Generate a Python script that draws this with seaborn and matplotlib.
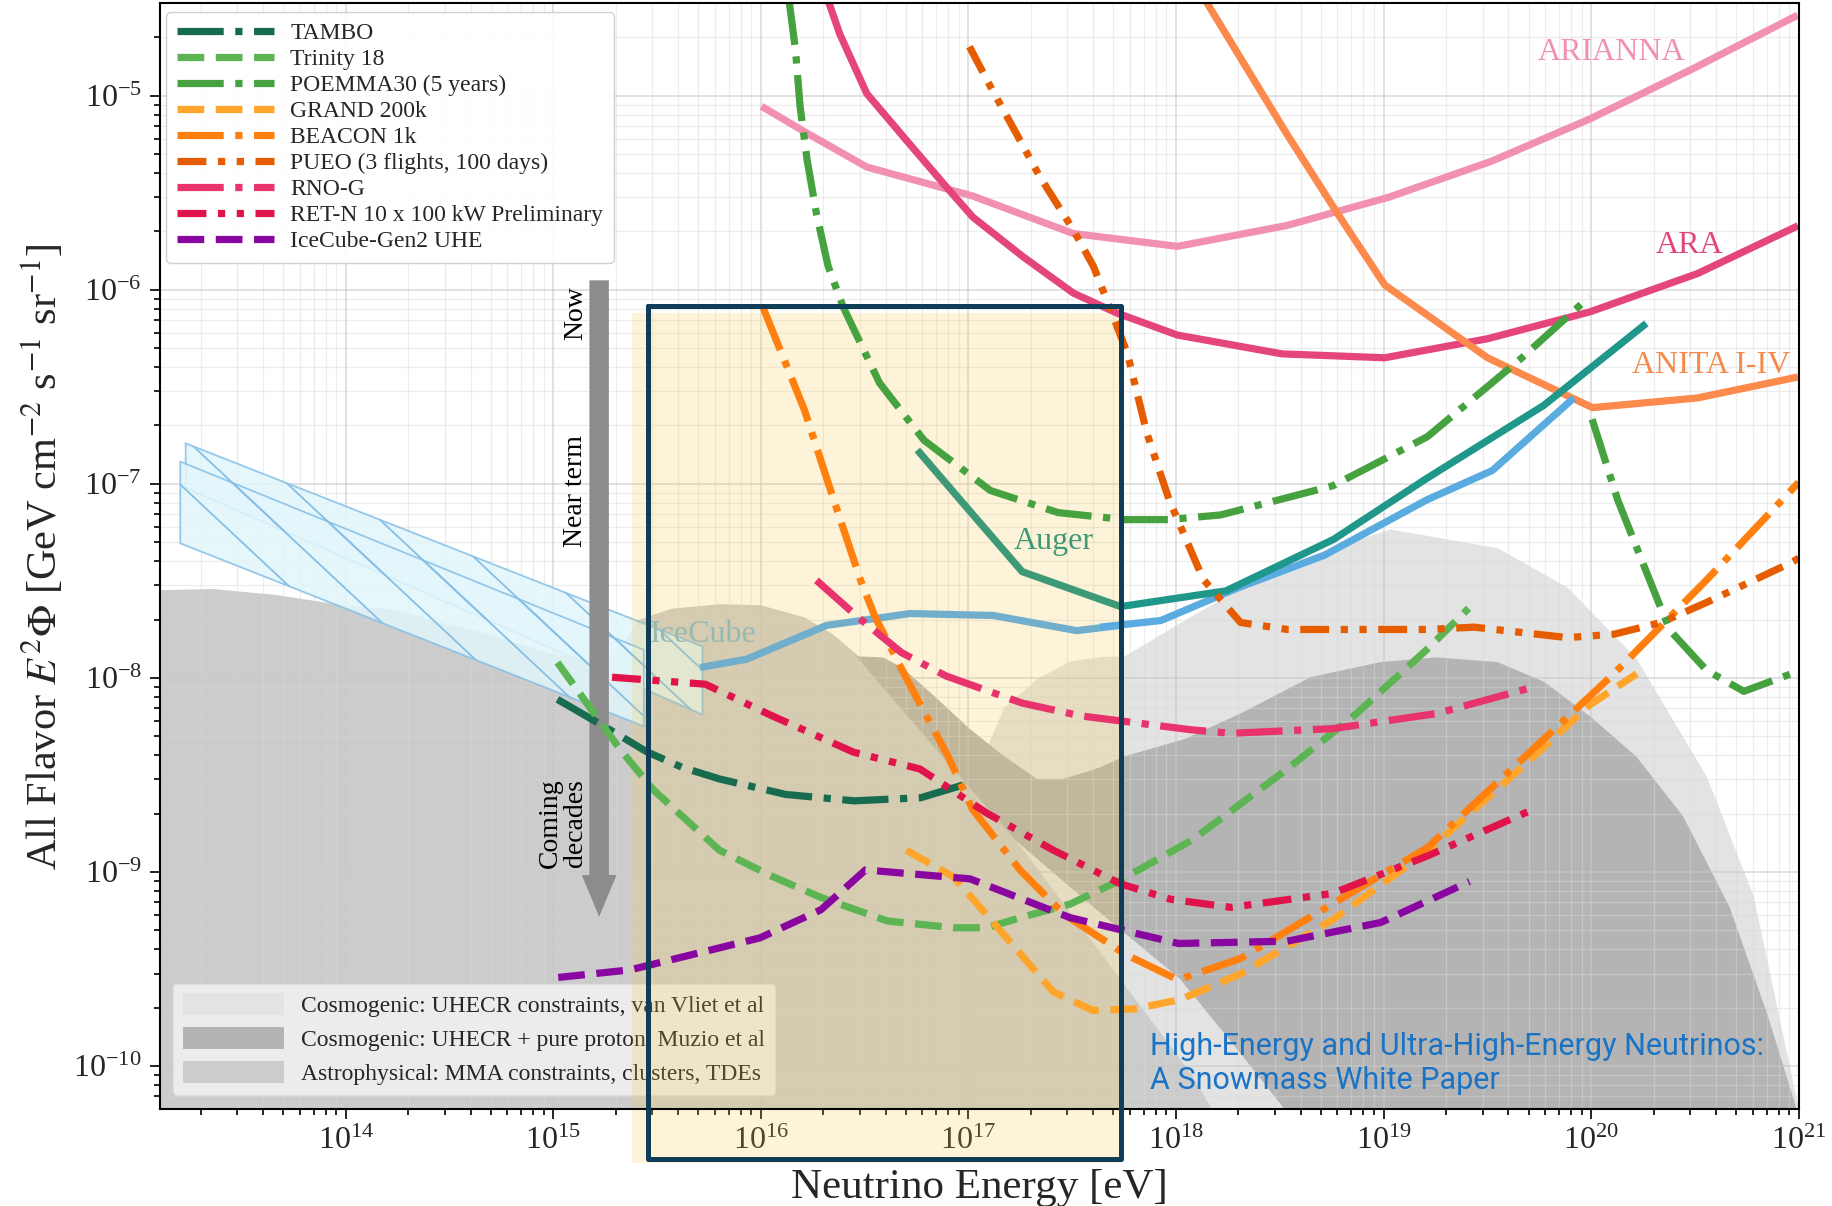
import numpy as np
import matplotlib
matplotlib.use("Agg")
import matplotlib.pyplot as plt
import seaborn as sns
from matplotlib.patches import Patch, FancyArrowPatch
from matplotlib.ticker import FixedLocator, LogLocator, NullFormatter

# ---------------- data (log10 E [eV], log10 E^2 Phi [GeV cm^-2 s^-1 sr^-1]) ----------------
TAMBO_logE = [15.02, 15.31, 15.45, 15.62, 15.80, 16.12, 16.45, 16.77, 17.01]
TAMBO_logF = [-8.11, -8.29, -8.38, -8.46, -8.52, -8.60, -8.633, -8.617, -8.54]

TRINITY_logE = [15.02, 15.32, 15.48, 15.80, 16.05, 16.29, 16.61, 16.93, 17.09, 17.25, 17.49, 17.73,
                18.08, 18.54, 18.87, 19.21, 19.41]
TRINITY_logF = [-7.92, -8.365, -8.574, -8.887, -9.02, -9.131, -9.252, -9.287, -9.287, -9.235, -9.165,
                -9.043, -8.833, -8.466, -8.183, -7.852, -7.641]

POEMMA_logE = [16.135, 16.167, 16.189, 16.223, 16.268, 16.324, 16.397, 16.510, 16.572, 16.786, 17.106,
               17.433, 17.754, 17.962, 18.215, 18.755, 19.211, 19.656, 19.993]
POEMMA_logF = [-4.50, -4.765, -5.054, -5.331, -5.608, -5.878, -6.089, -6.342, -6.480, -6.775, -7.034,
               -7.148, -7.184, -7.184, -7.160, -7.010, -6.757, -6.360, -6.035]
POEMMA_B_logE = [20.005, 20.128, 20.314, 20.381, 20.556, 20.736, 20.995]
POEMMA_B_logF = [-6.667, -7.082, -7.581, -7.756, -7.960, -8.069, -7.966]

GRAND_logE = [16.70, 16.93, 17.17, 17.41, 17.60, 17.80, 18.02, 18.31, 18.76, 19.21, 19.66, 19.99, 20.22]
GRAND_logF = [-8.887, -9.026, -9.322, -9.618, -9.713, -9.705, -9.657, -9.525, -9.242, -8.893, -8.466,
              -8.141, -7.978]

BEACON_logE = [16.01, 16.21, 16.34, 16.48, 16.55, 16.70, 16.90, 17.02, 17.25, 17.46, 17.76, 18.01, 18.31,
               19.21, 20.11, 20.56, 21.0]
BEACON_logF = [-6.089, -6.619, -7.046, -7.495, -7.684, -7.999, -8.400, -8.677, -8.991, -9.217, -9.426,
               -9.555, -9.446, -8.875, -7.978, -7.491, -6.992]

PUEO_logE = [17.005, 17.106, 17.230, 17.343, 17.506, 17.602, 17.680, 17.765, 17.860, 17.967, 18.131,
             18.311, 18.536, 19.211, 19.436, 19.886, 20.112, 20.337, 20.556, 20.961, 21.0]
PUEO_logF = [-4.747, -4.952, -5.193, -5.415, -5.692, -5.878, -6.089, -6.324, -6.739, -7.082, -7.491,
             -7.714, -7.750, -7.750, -7.738, -7.792, -7.774, -7.714, -7.611, -7.407, -7.383]

RNOG_logE = [16.268, 16.465, 16.679, 16.893, 17.258, 17.540, 18.074, 18.266, 18.755, 19.256, 19.706]
RNOG_logF = [-7.497, -7.684, -7.870, -7.990, -8.129, -8.195, -8.267, -8.285, -8.261, -8.183, -8.051]

RETN_logE = [15.283, 15.733, 16.044, 16.446, 16.767, 17.088, 17.409, 17.731, 17.973, 18.266, 18.755,
             19.211, 19.723]
RETN_logF = [-7.996, -8.032, -8.190, -8.382, -8.469, -8.696, -8.887, -9.060, -9.140, -9.182, -9.110,
             -8.917, -8.676]

GEN2_logE = [15.024, 15.37, 15.996, 16.290, 16.504, 17.008, 17.490, 18.012, 18.536, 18.986, 19.414]
GEN2_logF = [-9.543, -9.504, -9.339, -9.194, -8.989, -9.035, -9.235, -9.368, -9.356, -9.260, -9.049]

ICECUBE_logE = [15.707, 15.932, 16.317, 16.719, 17.120, 17.522, 17.731]
ICECUBE_logF = [-7.946, -7.903, -7.729, -7.668, -7.678, -7.756, -7.729]
ICECUBE_HE_logE = [17.635, 17.927, 18.309, 18.714, 19.209, 19.524, 19.917]
ICECUBE_HE_logF = [-7.738, -7.704, -7.531, -7.368, -7.082, -6.931, -6.557]

AUGER_logE = [16.754, 17.002, 17.259, 17.733]
AUGER_logF = [-6.825, -7.134, -7.452, -7.632]
AUGER_HE_logE = [17.733, 18.241, 18.759, 19.209, 19.771, 20.266]
AUGER_HE_logF = [-7.632, -7.551, -7.286, -6.971, -6.596, -6.173]

ARIANNA_logE = [16.003, 16.223, 16.510, 17.022, 17.506, 18.007, 18.536, 19.025, 19.521, 19.993, 20.488, 20.995]
ARIANNA_logF = [-5.054, -5.193, -5.367, -5.517, -5.710, -5.776, -5.668, -5.523, -5.337, -5.120, -4.862, -4.585]

ARA_logE = [16.305, 16.380, 16.510, 16.701, 16.893, 17.022, 17.264, 17.506, 17.714, 18.007, 18.511,
            19.006, 19.501, 19.996, 20.513, 20.997]
ARA_logF = [-4.45, -4.681, -4.988, -5.229, -5.469, -5.626, -5.830, -6.017, -6.119, -6.233, -6.330,
            -6.350, -6.252, -6.113, -5.916, -5.670]

ANITA_logE = [18.12, 18.534, 18.781, 19.006, 19.501, 20.007, 20.513, 20.997]
ANITA_logF = [-4.47, -5.197, -5.611, -5.975, -6.350, -6.607, -6.557, -6.449]

# model regions
ASTRO_logE = [13.105, 13.358, 13.657, 13.989, 14.242, 14.450, 14.670, 14.979, 15.232, 15.345, 15.401,
              15.564, 15.801, 15.998, 16.206, 16.347, 16.459, 16.724, 17.061, 17.399, 17.737, 18.074, 18.215]
ASTRO_logF = [-7.545, -7.539, -7.569, -7.623, -7.647, -7.708, -7.768, -7.870, -7.912, -7.804, -7.702,
              -7.641, -7.617, -7.623, -7.684, -7.774, -7.876, -8.177, -8.598, -9.079, -9.561, -10.042, -10.30]

MUZIO_UP_logE = [16.459, 16.589, 16.684, 16.848, 17.005, 17.168, 17.331, 17.455, 17.568, 17.635, 17.748,
                 18.041, 18.311, 18.648, 18.986, 19.256, 19.549, 19.774, 19.999, 20.218, 20.443, 20.668,
                 20.848, 20.984, 21.0]
MUZIO_UP_logF = [-7.888, -7.894, -7.948, -8.105, -8.261, -8.400, -8.520, -8.520, -8.484, -8.460, -8.405,
                 -8.315, -8.183, -7.996, -7.918, -7.894, -7.918, -8.020, -8.201, -8.405, -8.712, -9.182,
                 -9.729, -10.199, -10.30]
MUZIO_LO_logE = [16.459, 16.836, 17.230, 17.624, 18.018, 18.311, 18.581]
MUZIO_LO_logF = [-7.888, -8.357, -8.839, -9.200, -9.549, -9.934, -10.30]

VLIET_logE = [16.949, 17.168, 17.331, 17.489, 17.652, 17.748, 18.086, 18.536, 19.031, 19.549, 19.886,
              20.218, 20.556, 20.781, 20.995, 21.0]
VLIET_logF = [-8.718, -8.153, -8.002, -7.912, -7.888, -7.888, -7.672, -7.407, -7.232, -7.329, -7.533,
              -7.900, -8.508, -9.122, -10.199, -10.30]

# IceCube measured astrophysical flux bands (E range, upper and lower bound)
BAND_A_logE = [13.229, 15.719]
BAND_A_top = [-6.791, -7.838]
BAND_A_bot = [-7.020, -8.189]
BAND_B_logE = [13.203, 15.436]
BAND_B_top = [-6.885, -7.855]
BAND_B_bot = [-7.306, -8.249]

# highlighted energy window
WINDOW_logE = [15.458, 17.737]
WINDOW_logF = [-6.083, -10.481]

XTICKS_log = [14, 15, 16, 17, 18, 19, 20, 21]
YTICKS_log = [-10, -9, -8, -7, -6, -5]

LEGEND_LABELS = ["TAMBO", "Trinity 18", "POEMMA30 (5 years)", "GRAND 200k", "BEACON 1k",
                 "PUEO (3 flights, 100 days)", "RNO-G", "RET-N 10 x 100 kW Preliminary",
                 "IceCube-Gen2 UHE"]
MODEL_LABELS = ["Cosmogenic: UHECR constraints, van Vliet et al",
                "Cosmogenic: UHECR + pure proton, Muzio et al",
                "Astrophysical: MMA constraints, clusters, TDEs"]

# ---------------- style ----------------
sns.set_theme(style="whitegrid")
plt.rcParams["font.family"] = ["Liberation Serif", "DejaVu Serif"]
plt.rcParams["mathtext.fontset"] = "stix"

def P(a):
    return 10.0 ** np.asarray(a, dtype=float)

fig = plt.figure(figsize=(18.32, 12.06), dpi=100)
ax = fig.add_axes([0.0873, 0.0804, 0.8945, 0.9168])
ax.set_xscale("log")
ax.set_yscale("log")
ax.set_xlim(10 ** 13.105, 1e21)
ax.set_ylim(10 ** -10.221, 10 ** -4.524)

LOW = 1e-12
C_VLIET, C_MUZIO, C_ASTRO = "#e3e3e3", "#b4b4b4", "#cccccc"
ax.fill_between(P(VLIET_logE), P(VLIET_logF), LOW, color=C_VLIET, lw=0, zorder=0.10)
ax.fill_between(P(ASTRO_logE), P(ASTRO_logF), LOW, color=C_ASTRO, lw=0, zorder=0.12)
ax.fill(np.concatenate([P(MUZIO_UP_logE), P(MUZIO_LO_logE)[::-1]]),
        np.concatenate([P(MUZIO_UP_logF), P(MUZIO_LO_logF)[::-1]]),
        color=C_MUZIO, lw=0, zorder=0.14)

# IceCube bands with sparse hatching
band_edge = "#86bfe6"
for bE, bt, bb in [(BAND_A_logE, BAND_A_top, BAND_A_bot), (BAND_B_logE, BAND_B_top, BAND_B_bot)]:
    xs = P([bE[0], bE[1], bE[1], bE[0]])
    ys = P([bt[0], bt[1], bb[1], bb[0]])
    poly = ax.fill(xs, ys, facecolor="#e2f6fb", edgecolor=band_edge, lw=1.3, alpha=0.85, zorder=1.0)[0]
    for c in np.arange(6.20, 7.95, 0.26):
        hx = np.array([12.5, 16.5])
        ln, = ax.plot(P(hx), P(c - hx), color=band_edge, lw=1.3, zorder=1.02)
        ln.set_clip_path(poly)

# highlighted window (fill + frame)
ax.fill(P([15.379, 17.725, 17.725, 15.379]), P([-6.12, -6.12, -10.50, -10.50]),
        color="#f5c742", alpha=0.2, lw=0, zorder=1.5, clip_on=False)
ax.plot(P([WINDOW_logE[0], WINDOW_logE[1], WINDOW_logE[1], WINDOW_logE[0], WINDOW_logE[0]]),
        P([WINDOW_logF[0], WINDOW_logF[0], WINDOW_logF[1], WINDOW_logF[1], WINDOW_logF[0]]),
        color="#0f3d57", lw=3.6, zorder=3, clip_on=False, solid_joinstyle="round")

DD = (0, (6.4, 1.6, 1.0, 1.6))
DASH = (0, (3.7, 1.6))
DDD = (0, (4.0, 1.6, 1.0, 1.6, 1.0, 1.6))
LW = 5.2

def curve(lx, ly, color, ls="-", lw=LW, z=2.0):
    sns.lineplot(x=P(lx), y=P(ly), ax=ax, color=color, estimator=None, sort=False, linewidth=lw)
    ln = ax.lines[-1]
    ln.set_linestyle(ls)
    ln.set_zorder(z)
    ln.set_solid_capstyle("butt")
    return ln

# existing experiments (solid)
curve(ARIANNA_logE, ARIANNA_logF, "#f290b4")
curve(ARA_logE, ARA_logF, "#e5457d")
curve(ANITA_logE, ANITA_logF, "#fb8a4c")
curve(ICECUBE_logE, ICECUBE_logF, "#70aecb")
curve(ICECUBE_HE_logE, ICECUBE_HE_logF, "#5aabe0")
curve(AUGER_logE, AUGER_logF, "#3d9976")
curve(AUGER_HE_logE, AUGER_HE_logF, "#1f978b")

# future experiments
h = []
h.append(curve(TAMBO_logE, TAMBO_logF, "#176b4f", DD, z=2.3))
h.append(curve(TRINITY_logE, TRINITY_logF, "#5cb552", DASH, z=2.3))
h.append(curve(POEMMA_logE, POEMMA_logF, "#45a23f", DD, z=2.3))
curve(POEMMA_B_logE, POEMMA_B_logF, "#45a23f", DD, z=2.3)
h.append(curve(GRAND_logE, GRAND_logF, "#ffa52b", DASH, z=2.3))
h.append(curve(BEACON_logE, BEACON_logF, "#ff800e", DD, z=2.3))
h.append(curve(PUEO_logE, PUEO_logF, "#e65c00", DDD, z=2.3))
h.append(curve(RNOG_logE, RNOG_logF, "#e8336d", DD, z=2.3))
h.append(curve(RETN_logE, RETN_logF, "#e0134a", DDD, z=2.3))
h.append(curve(GEN2_logE, GEN2_logF, "#8a06a0", DASH, z=2.3))

# text labels on curves
lab_kw = dict(fontsize=23, ha="center", va="center", zorder=2.5)
ax.text(10 ** 15.722, 10 ** -7.774, "IceCube", color="#80b6d1", **{**lab_kw, "zorder": 1.4})
ax.text(10 ** 17.41, 10 ** -7.298, "Auger", color="#3d9976", **lab_kw)
ax.text(10 ** 20.10, 10 ** -4.777, "ARIANNA", color="#f290b4", **lab_kw)
ax.text(10 ** 20.472, 10 ** -5.770, "ARA", color="#e0457b", **lab_kw)
ax.text(10 ** 20.578, 10 ** -6.390, "ANITA I-IV", color="#f58a4b", **lab_kw)

# timeline arrow
arr = FancyArrowPatch((10 ** 15.221, 10 ** -5.951), (10 ** 15.221, 10 ** -9.23),
                      arrowstyle="simple,head_length=30,head_width=25,tail_width=14",
                      mutation_scale=1, color="#8c8c8c", lw=0, zorder=1.3,
                      shrinkA=0, shrinkB=0)
ax.add_patch(arr)
tkw = dict(rotation=90, fontsize=20, ha="center", va="center", zorder=2.6, color="black")
ax.text(10 ** 15.109, 10 ** -6.119, "Now", **tkw)
ax.text(10 ** 15.109, 10 ** -7.034, "Near term", **tkw)
ax.text(10 ** 15.045, 10 ** -8.749, "Coming\ndecades", linespacing=1.0, **tkw)

ax.text(10 ** 17.877, 10 ** -9.985,
        "High-Energy and Ultra-High-Energy Neutrinos:\nA Snowmass White Paper",
        family=["Roboto", "DejaVu Sans"], fontsize=22, color="#1a73c5",
        ha="left", va="center", linespacing=1.2, zorder=2.6)

# axes, ticks and grid
ax.xaxis.set_major_locator(FixedLocator(P(XTICKS_log)))
ax.yaxis.set_major_locator(FixedLocator(P(YTICKS_log)))
ax.xaxis.set_minor_locator(LogLocator(base=10, subs=np.arange(2, 10), numticks=100))
ax.yaxis.set_minor_locator(LogLocator(base=10, subs=np.arange(2, 10), numticks=100))
ax.xaxis.set_minor_formatter(NullFormatter())
ax.yaxis.set_minor_formatter(NullFormatter())
ax.set_axisbelow(True)
ax.grid(which="major", color="#c8c8c8", alpha=0.6, lw=1.3)
ax.grid(which="minor", color="#d8d8d8", alpha=0.45, lw=0.9)
ax.tick_params(which="both", direction="out", bottom=True, left=True, color="black", width=1.2)
ax.tick_params(which="major", length=7, labelsize=23, pad=6)
ax.tick_params(which="minor", length=4)
for s in ax.spines.values():
    s.set_color("black")
    s.set_linewidth(1.5)

ax.set_xlabel("Neutrino Energy [eV]", fontsize=31, labelpad=9)
ax.set_ylabel(r"All Flavor $E^2\Phi$ [GeV cm$^{-2}$ s$^{-1}$ sr$^{-1}$]", fontsize=30.5, labelpad=5)

# legends
leg1 = ax.legend(h, LEGEND_LABELS, loc="upper left", bbox_to_anchor=(0.004, 0.992), borderaxespad=0,
                 fontsize=17, handlelength=4.1, labelspacing=0.19, borderpad=0.45,
                 handletextpad=0.7, frameon=True, fancybox=True, framealpha=0.92,
                 edgecolor="#cccccc", facecolor="white")
leg1.set_zorder(5)
ax.add_artist(leg1)

mh = [Patch(facecolor=C_VLIET, edgecolor="none"), Patch(facecolor=C_MUZIO, edgecolor="none"),
      Patch(facecolor=C_ASTRO, edgecolor="none")]
leg2 = ax.legend(mh, MODEL_LABELS, loc="lower left", bbox_to_anchor=(0.0078, 0.0125), borderaxespad=0,
                 fontsize=17, handlelength=4.3, handleheight=1.05, labelspacing=0.42,
                 borderpad=0.42, handletextpad=0.7, frameon=True, fancybox=True, framealpha=0.75,
                 edgecolor="#e0e0e0", facecolor="#f7f7f7")
leg2.set_zorder(1.2)

fig.savefig("out.png", dpi=100)
